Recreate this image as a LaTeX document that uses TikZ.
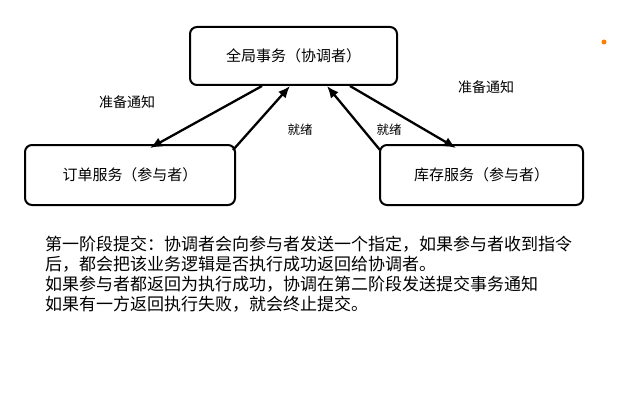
\documentclass[tikz,border=0pt]{standalone}
\usepackage{fontspec}
\setmainfont{Noto Sans CJK SC}
\usetikzlibrary{arrows.meta}
\begin{document}
\begin{tikzpicture}[x=1pt,y=-1pt,
  box/.style={draw,line width=2pt,rounded corners=7pt,inner sep=0pt},
  arr/.style={line width=2.3pt,-{Latex[length=12pt,width=10pt]}},
  lbl/.style={font=\fontsize{15}{17}\selectfont}]
\useasboundingbox (0,0) rectangle (638,404);
\fill[white] (0,0) rectangle (638,404);
\node[box,minimum width=207pt,minimum height=58pt,lbl] (g) at (293.5,56) {全局事务（协调者）};
\node[box,minimum width=210pt,minimum height=60pt,lbl] (o) at (130,175) {订单服务（参与者）};
\node[box,minimum width=203pt,minimum height=60pt,lbl] (s) at (481.5,175) {库存服务（参与者）};
\coordinate (g1) at (262,86); \coordinate (o1) at (150,148);
\coordinate (o2) at (233,150); \coordinate (g2) at (290,86);
\coordinate (s1) at (380,150); \coordinate (g3) at (327,86);
\coordinate (g4) at (350,86); \coordinate (s2) at (456,148);
\draw[arr] (g1) -- (o1);
\draw[arr] (o2) -- (g2);
\draw[arr] (s1) -- (g3);
\draw[arr] (g4) -- (s2);
\node[lbl,font=\fontsize{14}{16}\selectfont] (l1) at (127,102) {准备通知};
\node[lbl,font=\fontsize{14}{16}\selectfont] (l2) at (486,87) {准备通知};
\node[font=\fontsize{12.5}{14}\selectfont] (l3) at (300,130) {就绪};
\node[font=\fontsize{12.5}{14}\selectfont] (l4) at (389,130) {就绪};
\fill[orange] (604,42) circle (2.5pt);
\node[anchor=north west,align=left,font=\fontsize{17}{20}\selectfont,inner sep=0pt] (t) at (45,236) {第一阶段提交：协调者会向参与者发送一个指定，如果参与者收到指令\\后，都会把该业务逻辑是否执行成功返回给协调者。\\如果参与者都返回为执行成功，协调在第二阶段发送提交事务通知\\如果有一方返回执行失败，就会终止提交。};
\end{tikzpicture}
\end{document}
